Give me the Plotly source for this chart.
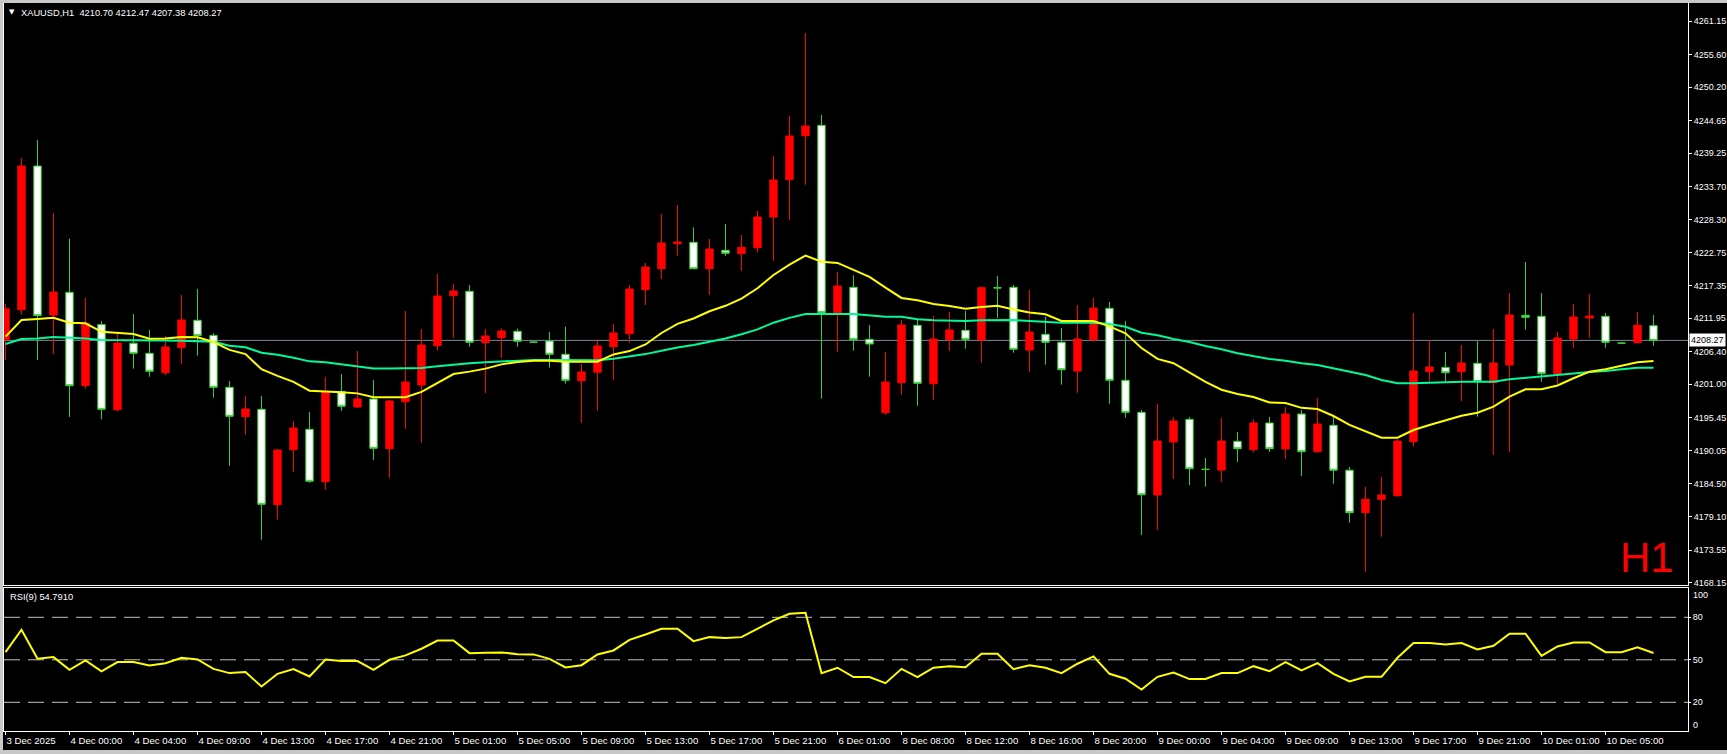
import plotly.graph_objects as go

# ---------------- data ----------------
bars = list(range(104))

opens = [4208.40, 4213.35, 4237.14, 4212.47, 4216.23, 4200.77, 4210.90, 4196.80, 4207.80, 4206.13,
         4202.92, 4207.06, 4211.60, 4209.10, 4200.50, 4195.64, 4196.86, 4181.07, 4190.17, 4193.55,
         4184.88, 4199.78, 4197.24, 4198.57, 4190.34, 4198.12, 4200.89, 4207.39, 4215.67, 4216.40,
         4207.89, 4208.72, 4209.78, 4208.00, 4208.17, 4205.97, 4201.60, 4203.00, 4207.23, 4209.38,
         4216.67, 4220.14, 4224.28, 4224.51, 4220.14, 4223.19, 4222.63, 4223.62, 4228.70, 4234.88,
         4242.16, 4243.88, 4212.75, 4217.06, 4208.45, 4196.30, 4201.27, 4210.77, 4201.10, 4208.39,
         4209.94, 4208.34, 4217.00, 4217.06, 4206.68, 4209.28, 4207.96, 4203.20, 4208.34, 4213.58,
         4201.66, 4196.36, 4182.67, 4191.45, 4195.20, 4186.95, 4186.80, 4191.56, 4190.17, 4194.60,
         4190.30, 4196.08, 4189.84, 4194.21, 4186.78, 4179.75, 4181.96, 4182.56, 4191.50, 4203.09,
         4203.80, 4203.09, 4204.48, 4201.27, 4204.20, 4212.42, 4212.26, 4202.71, 4208.50, 4211.98,
         4212.26, 4207.85, 4207.89, 4210.70]
highs = [4214.35, 4238.50, 4241.45, 4229.40, 4225.10, 4215.30, 4211.48, 4209.45, 4212.64, 4209.99,
         4209.00, 4215.80, 4216.78, 4209.45, 4201.55, 4199.06, 4199.06, 4190.30, 4194.93, 4196.40,
         4202.26, 4202.70, 4206.51, 4201.70, 4198.40, 4213.14, 4210.16, 4219.26, 4217.60, 4217.44,
         4210.11, 4210.27, 4210.20, 4208.10, 4209.66, 4210.54, 4204.36, 4208.45, 4210.99, 4217.44,
         4221.08, 4229.20, 4230.69, 4227.00, 4225.06, 4227.54, 4225.72, 4229.70, 4238.80, 4245.42,
         4259.16, 4245.59, 4219.60, 4219.05, 4210.82, 4206.35, 4211.65, 4211.65, 4212.30, 4212.97,
         4213.14, 4217.16, 4218.93, 4217.44, 4216.61, 4212.20, 4210.32, 4214.13, 4215.30, 4214.63,
         4211.48, 4196.75, 4197.74, 4195.54, 4195.54, 4188.80, 4195.40, 4193.10, 4195.25, 4195.60,
         4197.24, 4196.75, 4198.73, 4195.64, 4187.30, 4184.05, 4185.70, 4191.90, 4212.80, 4208.33,
         4206.35, 4207.50, 4208.17, 4210.16, 4216.12, 4221.25, 4216.12, 4209.66, 4214.30, 4215.95,
         4212.80, 4207.90, 4212.97, 4212.47]
lows = [4205.00, 4212.60, 4205.00, 4206.00, 4195.60, 4200.27, 4195.20, 4196.50, 4203.60, 4202.26,
        4202.54, 4204.40, 4205.74, 4198.80, 4187.50, 4192.66, 4175.27, 4178.60, 4186.53, 4184.70,
        4183.55, 4196.60, 4197.10, 4188.47, 4185.54, 4193.65, 4191.33, 4206.57, 4208.72, 4207.23,
        4199.51, 4205.40, 4207.23, 4207.90, 4203.75, 4201.10, 4194.64, 4196.63, 4201.76, 4207.89,
        4214.13, 4218.40, 4222.30, 4220.10, 4215.80, 4222.24, 4219.80, 4222.80, 4221.47, 4228.25,
        4234.05, 4198.62, 4206.40, 4206.57, 4202.26, 4195.97, 4199.28, 4197.46, 4198.45, 4206.57,
        4206.90, 4204.58, 4212.03, 4206.23, 4203.09, 4204.25, 4200.94, 4199.61, 4208.05, 4197.79,
        4195.47, 4176.05, 4176.88, 4185.32, 4184.33, 4184.05, 4184.83, 4188.14, 4189.70, 4189.80,
        4188.64, 4185.82, 4189.70, 4184.55, 4178.10, 4169.98, 4175.77, 4182.40, 4190.67, 4201.43,
        4201.43, 4198.20, 4195.64, 4189.30, 4189.84, 4210.04, 4201.43, 4201.05, 4207.06, 4208.72,
        4207.06, 4207.75, 4207.79, 4207.38]
closes = [4213.50, 4237.14, 4212.36, 4216.28, 4200.77, 4211.10, 4196.86, 4207.84, 4206.13, 4203.15,
          4207.18, 4211.65, 4209.05, 4200.50, 4195.70, 4196.91, 4181.13, 4190.12, 4193.77, 4184.94,
          4199.78, 4197.36, 4198.57, 4190.40, 4198.24, 4201.38, 4207.51, 4215.62, 4216.45, 4207.96,
          4209.00, 4209.83, 4208.12, 4207.96, 4205.97, 4201.66, 4203.04, 4207.34, 4209.50, 4216.78,
          4220.42, 4224.40, 4224.56, 4220.14, 4223.40, 4222.69, 4223.68, 4228.70, 4234.83, 4242.11,
          4243.77, 4212.86, 4217.28, 4208.39, 4207.67, 4201.38, 4210.82, 4201.16, 4208.50, 4209.99,
          4208.45, 4217.00, 4216.95, 4206.80, 4209.66, 4207.96, 4203.42, 4208.50, 4213.63, 4201.66,
          4196.36, 4182.72, 4191.61, 4194.93, 4187.03, 4186.90, 4191.61, 4190.34, 4194.60, 4190.34,
          4196.08, 4189.84, 4194.43, 4186.78, 4179.75, 4181.96, 4182.67, 4191.60, 4203.20, 4203.86,
          4202.92, 4204.53, 4201.43, 4204.53, 4212.47, 4212.09, 4202.76, 4208.67, 4212.14, 4212.31,
          4207.96, 4207.80, 4210.77, 4208.27]

ma_fast = [4208.90, 4211.65, 4211.80, 4212.00, 4211.20, 4211.10, 4209.70, 4209.55, 4209.33, 4208.55,
           4208.60, 4208.85, 4208.80, 4208.00, 4206.70, 4206.00, 4203.50, 4202.40, 4201.40, 4199.94,
           4199.85, 4199.70, 4199.50, 4198.85, 4198.85, 4198.85, 4199.75, 4201.20, 4202.70, 4203.10,
           4203.60, 4204.30, 4204.70, 4204.90, 4204.90, 4204.75, 4204.75, 4204.75, 4205.95, 4206.50,
           4207.60, 4209.50, 4211.00, 4211.90, 4213.10, 4214.00, 4215.20, 4216.90, 4219.10, 4220.80,
           4222.30, 4221.30, 4221.10, 4219.95, 4218.80, 4217.00, 4215.30, 4214.90, 4214.30, 4213.96,
           4213.52, 4213.80, 4214.00, 4213.40, 4212.90, 4212.60, 4211.50, 4211.50, 4211.48, 4210.60,
           4209.45, 4207.00, 4205.20, 4204.50, 4202.90, 4201.40, 4200.10, 4199.40, 4198.90, 4198.00,
           4197.90, 4197.10, 4196.90, 4195.75, 4194.27, 4193.20, 4192.16, 4192.16, 4193.43, 4194.27,
           4194.98, 4195.80, 4196.30, 4197.30, 4198.95, 4200.17, 4200.17, 4200.80, 4202.00, 4203.09,
           4203.48, 4204.08, 4204.64, 4204.86]
ma_slow = [4207.67, 4208.50, 4208.60, 4208.85, 4208.70, 4208.60, 4208.34, 4208.34, 4208.34, 4208.30,
           4208.25, 4208.20, 4208.17, 4208.06, 4207.40, 4207.13, 4206.23, 4205.90, 4205.40, 4204.80,
           4204.64, 4204.30, 4203.95, 4203.60, 4203.60, 4203.60, 4203.70, 4204.00, 4204.30, 4204.48,
           4204.65, 4204.80, 4205.00, 4205.03, 4205.03, 4205.00, 4204.91, 4205.00, 4205.25, 4205.65,
           4206.00, 4206.55, 4207.10, 4207.50, 4208.00, 4208.60, 4209.30, 4210.10, 4211.20, 4212.00,
           4212.64, 4212.69, 4212.65, 4212.64, 4212.47, 4212.20, 4212.20, 4211.76, 4211.60, 4211.48,
           4211.48, 4211.60, 4211.65, 4211.65, 4211.48, 4211.35, 4211.20, 4211.20, 4211.20, 4210.99,
           4210.54, 4209.55, 4209.11, 4208.50, 4208.00, 4207.34, 4206.80, 4206.13, 4205.69, 4205.19,
           4204.91, 4204.48, 4204.20, 4203.65, 4203.09, 4202.54, 4201.71, 4201.17, 4201.17, 4201.27,
           4201.27, 4201.43, 4201.43, 4201.43, 4201.83, 4202.10, 4202.26, 4202.54, 4202.80, 4203.05,
           4203.20, 4203.50, 4203.75, 4203.75]

rsi = [55.4, 71.2, 50.7, 51.9, 42.9, 49.5, 41.8, 48.4, 48.4, 46.0,
       47.6, 51.4, 50.2, 43.6, 40.6, 41.3, 31.2, 40.1, 43.4, 38.2,
       50.2, 49.1, 49.1, 42.9, 50.0, 53.1, 57.8, 63.6, 63.6, 54.7,
       54.9, 55.2, 54.0, 53.8, 50.7, 44.6, 46.2, 53.8, 56.6, 64.1,
       67.9, 71.9, 71.9, 63.2, 66.0, 65.3, 66.0, 71.9, 77.8, 82.5,
       83.2, 40.6, 44.4, 37.8, 37.8, 33.5, 43.6, 37.8, 44.4, 45.5,
       44.8, 54.2, 54.2, 43.4, 46.2, 44.4, 40.6, 47.2, 52.4, 40.1,
       36.6, 29.0, 38.0, 41.0, 36.4, 36.4, 40.6, 40.6, 45.5, 42.0,
       48.4, 42.5, 47.6, 40.1, 34.7, 38.0, 38.0, 51.4, 61.8, 61.8,
       60.8, 61.8, 57.3, 59.9, 68.4, 68.4, 52.8, 59.4, 62.2, 62.2,
       55.4, 55.4, 58.9, 54.79]

time_tick_bars = list(range(0, 101, 4))
time_tick_text = ["3 Dec 2025", "4 Dec 00:00", "4 Dec 04:00", "4 Dec 09:00", "4 Dec 13:00",
                  "4 Dec 17:00", "4 Dec 21:00", "5 Dec 01:00", "5 Dec 05:00", "5 Dec 09:00",
                  "5 Dec 13:00", "5 Dec 17:00", "5 Dec 21:00", "6 Dec 01:00", "8 Dec 08:00",
                  "8 Dec 12:00", "8 Dec 16:00", "8 Dec 20:00", "9 Dec 00:00", "9 Dec 04:00",
                  "9 Dec 09:00", "9 Dec 13:00", "9 Dec 17:00", "9 Dec 21:00", "10 Dec 01:00",
                  "10 Dec 05:00"]
price_ticks = [4261.15, 4255.60, 4250.20, 4244.65, 4239.25, 4233.70, 4228.30, 4222.75, 4217.35,
               4211.95, 4206.40, 4201.00, 4195.45, 4190.05, 4184.50, 4179.10, 4173.55, 4168.15]
price_tick_text = [f"{v:.2f}" for v in price_ticks]
rsi_levels = [20, 50, 80]
last_price = 4208.27
title_text = "XAUUSD,H1  4210.70 4212.47 4207.38 4208.27"
rsi_text = "RSI(9) 54.7910"

# ---------------- layout geometry ----------------
W, H = 1727, 754
ML, MR, MT, MB = 4, 39, 3, 23
PW = W - ML - MR
PH = H - MT - MB


def px(xp):
    return (xp - ML) / PW


def py(yp):
    return (H - MB - yp) / PH


FONT = "Liberation Sans, Arial, sans-serif"
WHITE = "#FFFFFF"

fig = go.Figure()

fig.add_trace(go.Candlestick(
    x=bars, open=opens, high=highs, low=lows, close=closes,
    increasing=dict(line=dict(color="#FF0000", width=1), fillcolor="#FF0000"),
    decreasing=dict(line=dict(color="#32CD32", width=1), fillcolor="#FFFFFF"),
    whiskerwidth=0, showlegend=False, hoverinfo="skip", xaxis="x", yaxis="y"))

fig.add_trace(go.Scatter(x=bars, y=ma_slow, mode="lines", line=dict(color="#00FA9A", width=2),
                         showlegend=False, hoverinfo="skip", xaxis="x", yaxis="y"))
fig.add_trace(go.Scatter(x=bars, y=ma_fast, mode="lines", line=dict(color="#FFFF00", width=2),
                         showlegend=False, hoverinfo="skip", xaxis="x", yaxis="y"))

fig.add_trace(go.Scatter(x=bars, y=rsi, mode="lines", line=dict(color="#FFFF00", width=2),
                         showlegend=False, hoverinfo="skip", xaxis="x2", yaxis="y2"))

xr = [(ML - 5.5) / 16.0, (W - MR - 5.5) / 16.0]
main_dom = [(H - MB - 585) / PH, 1]
rsi_dom = [0, (H - MB - 588) / PH]
yr_main = [last_price - (585 - 340.4) / 6.04, last_price + (340.4 - MT) / 6.04]
yr_rsi = [-0.26, 100.68]

axis_common = dict(showgrid=False, zeroline=False, showline=True, mirror=True,
                   linecolor=WHITE, linewidth=1, automargin=False)

fig.update_layout(
    template="none",
    width=W, height=H,
    margin=dict(l=ML, r=MR, t=MT, b=MB, pad=0, autoexpand=False),
    paper_bgcolor="#000000", plot_bgcolor="#000000",
    boxgap=0.34,
    showlegend=False,
    font=dict(family=FONT, size=9, color=WHITE),
    xaxis=dict(domain=[0, 1], range=xr, anchor="y", showticklabels=False, ticks="",
               rangeslider=dict(visible=False), **axis_common),
    yaxis=dict(domain=main_dom, range=yr_main, anchor="x", side="right",
               tickvals=price_ticks, ticktext=price_tick_text, ticks="outside", ticklen=3,
               tickcolor=WHITE, tickfont=dict(family=FONT, size=9, color=WHITE), **axis_common),
    xaxis2=dict(domain=[0, 1], range=xr, anchor="y2", matches="x",
                tickvals=time_tick_bars, ticktext=time_tick_text, ticks="outside", ticklen=3,
                tickcolor=WHITE, ticklabelposition="outside right", tickangle=0,
                tickfont=dict(family=FONT, size=9.6, color=WHITE), **axis_common),
    yaxis2=dict(domain=rsi_dom, range=yr_rsi, anchor="x2", side="right",
                tickvals=rsi_levels, ticktext=[str(v) for v in rsi_levels], ticks="outside",
                ticklen=2, tickcolor=WHITE, tickfont=dict(family=FONT, size=9, color=WHITE),
                **axis_common),
)

shapes = []
# current price line
shapes.append(dict(type="line", xref="x domain", yref="y", x0=0, x1=1, y0=last_price, y1=last_price,
                   line=dict(color="#778899", width=1), layer="below"))
# RSI levels
for lv in rsi_levels:
    shapes.append(dict(type="line", xref="x2 domain", yref="y2", x0=0, x1=1, y0=lv, y1=lv,
                       line=dict(color="#C0C0C0", width=1, dash="16px,8px"), layer="below"))
# window frame (gray strips)
gray = "#C8C8C8"
shapes.append(dict(type="rect", xref="paper", yref="paper", x0=px(0), x1=px(3), y0=py(H), y1=py(0),
                   fillcolor=gray, line=dict(width=0)))
shapes.append(dict(type="rect", xref="paper", yref="paper", x0=px(0), x1=px(W), y0=py(3), y1=py(0),
                   fillcolor=gray, line=dict(width=0)))
shapes.append(dict(type="rect", xref="paper", yref="paper", x0=px(0), x1=px(W), y0=py(H), y1=py(750),
                   fillcolor=gray, line=dict(width=0)))
fig.update_layout(shapes=shapes)

ann = []
ann.append(dict(text="▼", xref="paper", yref="paper", x=px(12), y=py(12.5), xanchor="center",
                yanchor="middle", showarrow=False, font=dict(family="DejaVu Sans", size=7, color=WHITE)))
ann.append(dict(text=title_text, xref="paper", yref="paper", x=px(19), y=py(12.7), xanchor="left",
                yanchor="middle", showarrow=False, font=dict(family=FONT, size=9.3, color=WHITE)))
ann.append(dict(text=rsi_text, xref="paper", yref="paper", x=px(8), y=py(596.5), xanchor="left",
                yanchor="middle", showarrow=False, font=dict(family=FONT, size=9.3, color=WHITE)))
ann.append(dict(text="H1", xref="paper", yref="paper", x=px(1676), y=py(557), xanchor="right",
                yanchor="middle", showarrow=False, font=dict(family=FONT, size=42, color="#FF0000")))
ann.append(dict(text=f"{last_price:.2f}", xref="paper", yref="y", x=px(1689), y=last_price,
                xanchor="left", yanchor="middle", showarrow=False, bgcolor=WHITE, borderpad=1,
                font=dict(family=FONT, size=9, color="#000000")))
ann.append(dict(text="100", xref="paper", yref="paper", x=px(1691), y=py(594.5), xanchor="left",
                yanchor="middle", showarrow=False, font=dict(family=FONT, size=9, color=WHITE)))
ann.append(dict(text="0", xref="paper", yref="paper", x=px(1691), y=py(724.5), xanchor="left",
                yanchor="middle", showarrow=False, font=dict(family=FONT, size=9, color=WHITE)))
fig.update_layout(annotations=ann)

fig.write_html("out.html", config={"displayModeBar": False},
               post_script="document.body.style.margin='0';document.body.style.overflow='hidden';")
